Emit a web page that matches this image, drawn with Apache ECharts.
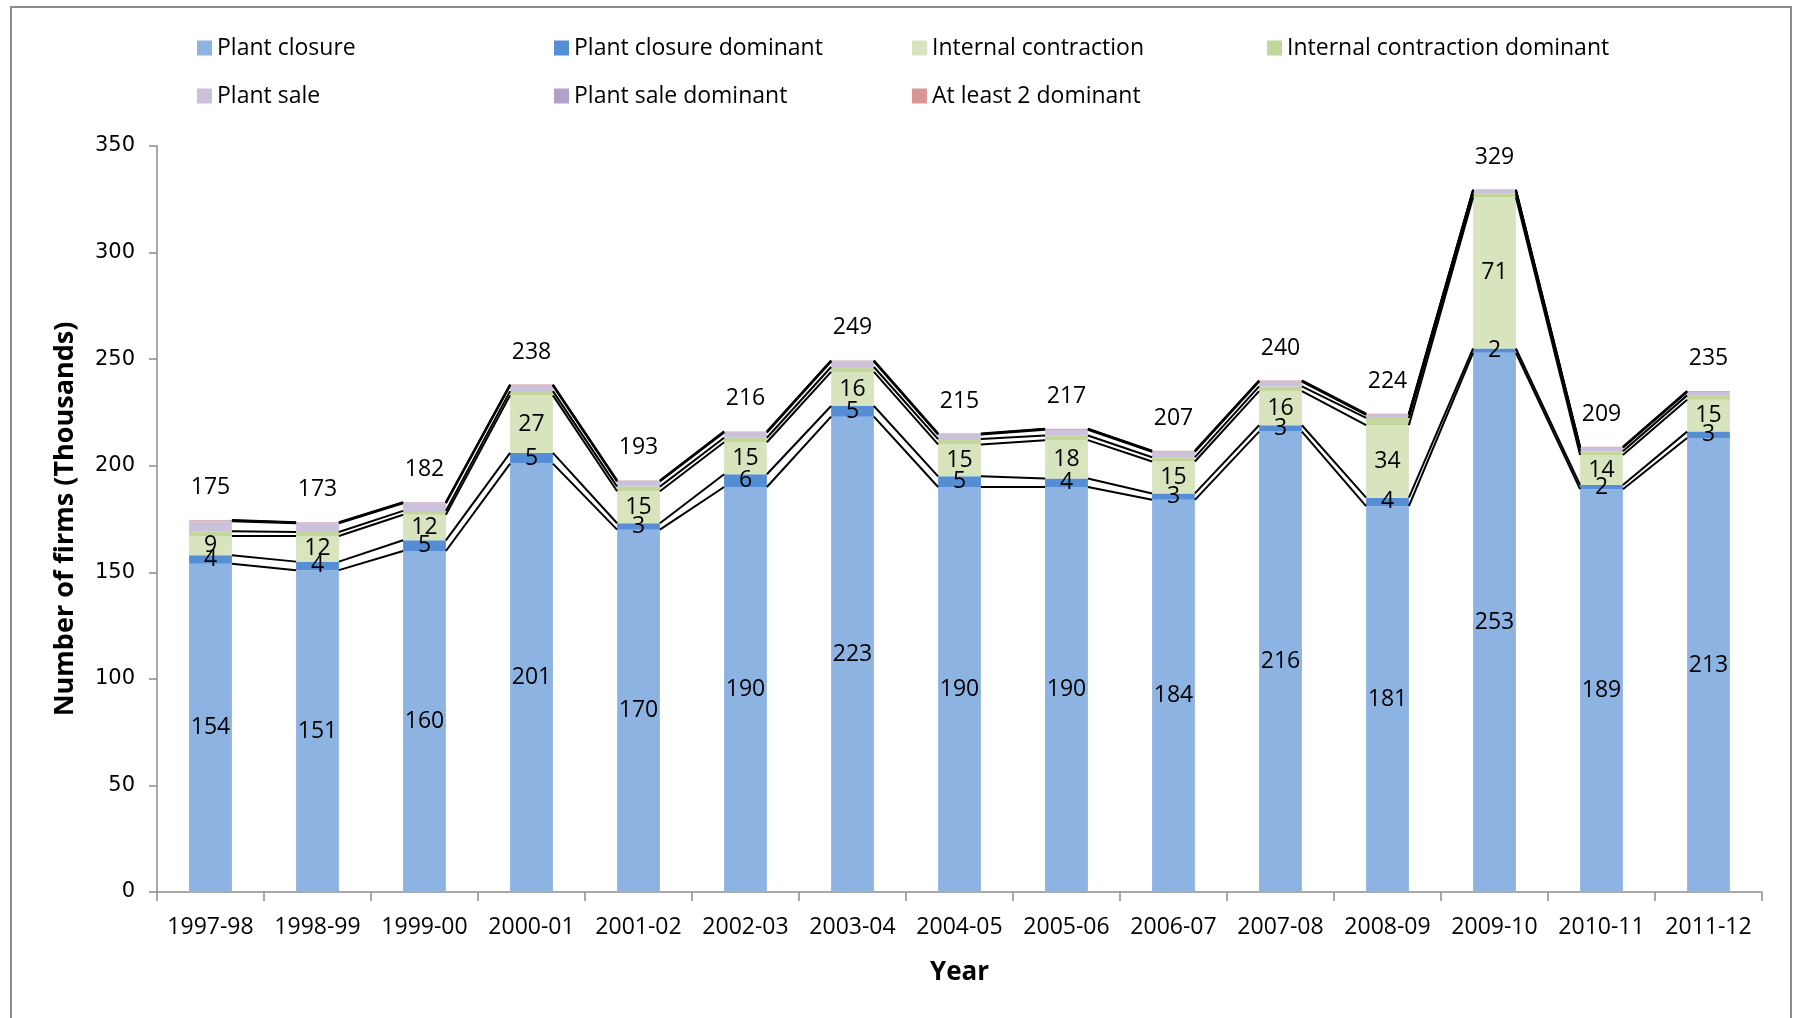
<!DOCTYPE html>
<html>
<head>
<meta charset="utf-8">
<script src="https://cdn.jsdelivr.net/npm/echarts@6/dist/echarts.min.js"></script>
<style>
  html, body { margin: 0; padding: 0; background: #fff; }
  #chart { width: 1798px; height: 1018px; }
</style>
</head>
<body>
<div id="chart"></div>
<script>
// 年份
const categories = ["1997-98", "1998-99", "1999-00", "2000-01", "2001-02", "2002-03", "2003-04",
  "2004-05", "2005-06", "2006-07", "2007-08", "2008-09", "2009-10", "2010-11", "2011-12"];

// values in thousands
const plantClosure = [154, 151, 160, 201, 170, 190, 223, 190, 190, 184, 216, 181, 253, 189, 213];
const plantClosureDominant = [4, 4, 5, 5, 3, 6, 5, 5, 4, 3, 3, 4, 2, 2, 3];
const internalContraction = [9, 12, 12, 27, 15, 15, 16, 15, 18, 15, 16, 34, 71, 14, 15];
const internalContractionDominant = [2.2, 1.9, 1.8, 2, 2.2, 2.1, 2.3, 2.5, 2.2, 2, 2.2, 3.4, 1.6, 1.8, 2];
const plantSale = [4.7, 4.1, 3.6, 2.6, 2.4, 2.5, 2.6, 2.1, 2.7, 2.5, 2.3, 1.5, 1.5, 1.6, 1.6];
const plantSaleDominant = [0.4, 0.3, 0.3, 0.3, 0.3, 0.3, 0.3, 0.3, 0.3, 0.3, 0.3, 0.3, 0.3, 0.3, 0.3];
const atLeast2Dominant = [0.2, 0.2, 0.2, 0.2, 0.2, 0.2, 0.2, 0.2, 0.2, 0.2, 0.2, 0.2, 0.2, 0.2, 0.2];
const totals = [175, 173, 182, 238, 193, 216, 249, 215, 217, 207, 240, 224, 329, 209, 235];

const yTicks = { min: 0, max: 350, interval: 50 };

const seriesDefs = [
  { name: "Plant closure", data: plantClosure, color: "#8DB3E2", label: true },
  { name: "Plant closure dominant", data: plantClosureDominant, color: "#558ED5", label: true },
  { name: "Internal contraction", data: internalContraction, color: "#D7E4BD", label: true },
  { name: "Internal contraction dominant", data: internalContractionDominant, color: "#C3D69B" },
  { name: "Plant sale", data: plantSale, color: "#CCC1DA" },
  { name: "Plant sale dominant", data: plantSaleDominant, color: "#B3A2C7" },
  { name: "At least 2 dominant", data: atLeast2Dominant, color: "#D99694", total: true },
];

const BAR_FRAC = 0.4;

// cumulative tops of every segment, used for the series lines
const cum = [];
seriesDefs.forEach((s, k) => {
  cum.push(s.data.map((v, i) => v + (k > 0 ? cum[k - 1][i] : 0)));
});

const chart = echarts.init(document.getElementById("chart"));

const barSeries = seriesDefs.map((s) => {
  const ser = {
    name: s.name,
    type: "bar",
    stack: "all",
    barWidth: BAR_FRAC * 100 + "%",
    itemStyle: { color: s.color },
    data: s.data,
    z: 2,
  };
  if (s.label) {
    ser.label = {
      show: true,
      position: "inside",
      color: "#000",
      fontSize: 23,
      fontFamily: "Open Sans",
      formatter: (p) => Math.round(p.value),
    };
  }
  if (s.total) {
    ser.label = {
      show: true,
      position: "top",
      distance: 21,
      color: "#000",
      fontSize: 23,
      fontFamily: "Open Sans",
      formatter: (p) => totals[p.dataIndex],
    };
  }
  return ser;
});

// Excel style series lines between neighbouring bars
const lineSeries = {
  type: "custom",
  silent: true,
  z: 5,
  encode: { x: 0, y: 1 },
  data: categories.slice(0, -1).map((c, i) => [i, 0]),
  renderItem: (params, api) => {
    const i = api.value(0);
    const half = (api.size([1, 0])[0] * BAR_FRAC) / 2;
    const children = cum.map((arr) => {
      const a = api.coord([i, arr[i]]);
      const b = api.coord([i + 1, arr[i + 1]]);
      return {
        type: "line",
        shape: { x1: a[0] + half, y1: a[1], x2: b[0] - half, y2: b[1] },
        style: { stroke: "#000", lineWidth: 2 },
      };
    });
    return { type: "group", children: children };
  },
};

// legend placed in a 4 column grid like the original
const legendCols = [197, 554, 912, 1267];
const legends = seriesDefs.map((s, k) => ({
  data: [s.name],
  left: legendCols[k % 4],
  top: k < 4 ? 35 : 83,
  padding: 0,
  itemWidth: 15,
  itemHeight: 15,
  icon: "rect",
  selectedMode: false,
  textStyle: { color: "#000", fontSize: 23, fontFamily: "Open Sans", lineHeight: 26 },
}));

const option = {
  animation: false,
  textStyle: { fontFamily: "Open Sans" },
  graphic: [
    {
      type: "rect",
      shape: { x: 11, y: 7, width: 1780, height: 1040 },
      style: { fill: "none", stroke: "#8c8c8c", lineWidth: 2 },
      silent: true,
    },
  ],
  legend: legends,
  grid: { left: 157, right: 36, top: 146, bottom: 126, containLabel: false },
  xAxis: {
    type: "category",
    data: categories,
    name: "Year",
    nameLocation: "middle",
    nameGap: 68,
    nameTextStyle: { fontSize: 26, fontWeight: "bold", color: "#000", fontFamily: "Open Sans" },
    axisLine: { lineStyle: { color: "#8c8c8c", width: 1.5 } },
    axisTick: { show: true, length: 9, lineStyle: { color: "#8c8c8c", width: 1.5 } },
    axisLabel: { color: "#000", fontSize: 23, margin: 24, fontFamily: "Open Sans", interval: 0 },
  },
  yAxis: {
    type: "value",
    min: yTicks.min,
    max: yTicks.max,
    interval: yTicks.interval,
    name: "Number of firms (Thousands)",
    nameLocation: "middle",
    nameGap: 78,
    nameTextStyle: { fontSize: 27, fontWeight: "bold", color: "#000", fontFamily: "Open Sans" },
    axisLine: { show: true, lineStyle: { color: "#8c8c8c", width: 1.5 } },
    axisTick: { show: true, length: 8, lineStyle: { color: "#8c8c8c", width: 1.5 } },
    splitLine: { show: false },
    axisLabel: { color: "#000", fontSize: 21, margin: 22, fontFamily: "DejaVu Sans" },
  },
  series: barSeries.concat([lineSeries]),
};

chart.setOption(option);
</script>
</body>
</html>
